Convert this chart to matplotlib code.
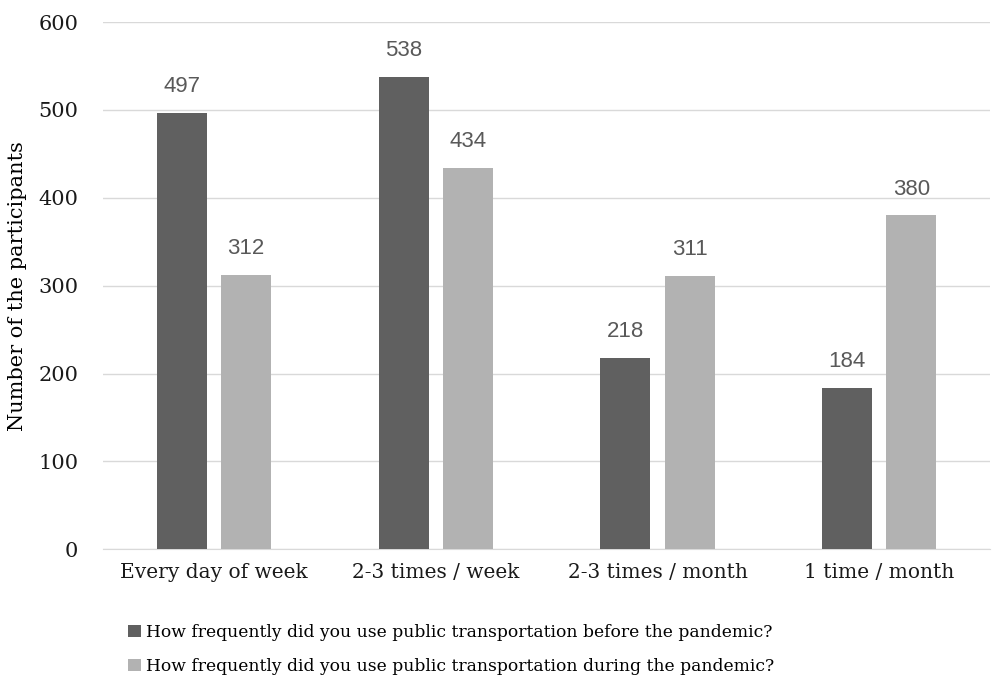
import matplotlib.pyplot as plt
import numpy as np

categories = ["Every day of week", "2-3 times / week", "2-3 times / month", "1 time / month"]
before = [497, 538, 218, 184]
during = [312, 434, 311, 380]
series_names = [
    "How frequently did you use public transportation before the pandemic?",
    "How frequently did you use public transportation during the pandemic?",
]
y_ticks = [0, 100, 200, 300, 400, 500, 600]

serif = ["DejaVu Serif"]
sans = ["Liberation Sans", "DejaVu Sans"]

fig = plt.figure(figsize=(9.92, 6.91), dpi=100)
ax = fig.add_axes([0.104, 0.205, 0.894, 0.763])

x = np.arange(len(categories))
w = 0.225
b1 = ax.bar(x - 0.145, before, w, color="#606060", label=series_names[0], zorder=3)
b2 = ax.bar(x + 0.145, during, w, color="#b2b2b2", label=series_names[1], zorder=3)

for bars in (b1, b2):
    for rect in bars:
        ax.text(rect.get_x() + rect.get_width() / 2, rect.get_height() + 18,
                f"{int(rect.get_height())}", ha="center", va="bottom",
                fontsize=16, color="#595959", family=sans)

ax.set_xlim(-0.5, len(categories) - 0.5)
ax.set_ylim(0, 600)
ax.set_yticks(y_ticks)
ax.set_yticklabels([str(t) for t in y_ticks], family=serif, fontsize=15, color="#1a1a1a")
ax.set_xticks(x)
ax.set_xticklabels(categories, family=serif, fontsize=14.5, color="#1a1a1a")
ax.tick_params(axis="y", length=0, pad=18)
ax.tick_params(axis="x", length=0, pad=10)
ax.yaxis.grid(True, color="#d9d9d9", linewidth=1, zorder=0)
for s in ["top", "right", "left"]:
    ax.spines[s].set_visible(False)
ax.spines["bottom"].set_color("#d9d9d9")
ax.set_ylabel("Number of the participants", family=serif, fontsize=15, labelpad=8)

fig.legend(handles=[b1, b2], loc="upper left", bbox_to_anchor=(0.122, 0.107),
           ncol=1, frameon=False, prop={"family": serif, "size": 12.3},
           handlelength=0.75, handleheight=0.75, handletextpad=0.3, labelspacing=1.0,
           borderaxespad=0)

fig.savefig("out.png", dpi=100)
